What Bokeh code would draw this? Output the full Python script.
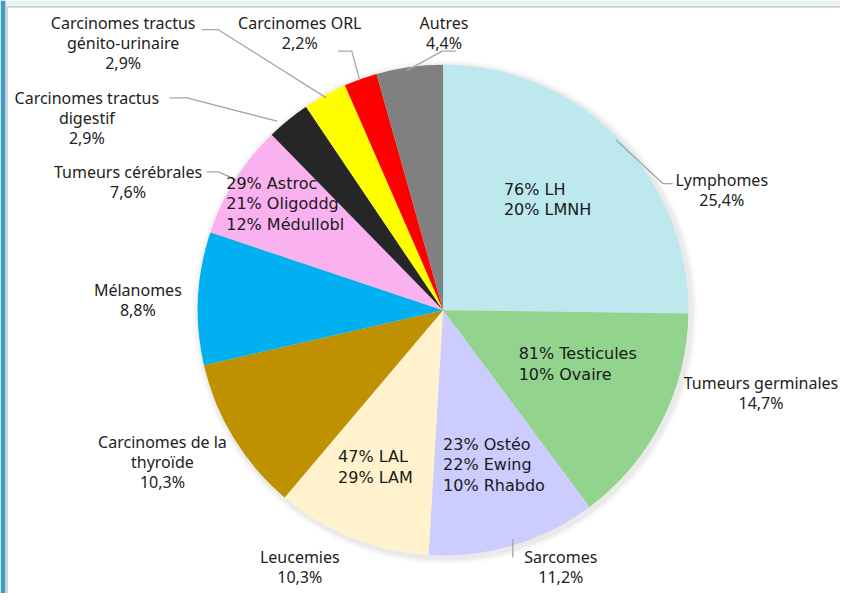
import math
from bokeh.plotting import figure
from bokeh.models import Range1d, ColumnDataSource
from bokeh.core.properties import value
from bokeh.embed import file_html
from bokeh.resources import INLINE

# ---------------- data ----------------
categories = ["Lymphomes", "Tumeurs germinales", "Sarcomes", "Leucemies",
              "Carcinomes de la thyroïde", "Mélanomes", "Tumeurs cérébrales",
              "Carcinomes tractus digestif", "Carcinomes tractus génito-urinaire",
              "Carcinomes ORL", "Autres"]
label_names = ["Lymphomes", "Tumeurs germinales", "Sarcomes", "Leucemies",
               "Carcinomes de la\nthyroïde", "Mélanomes", "Tumeurs cérébrales",
               "Carcinomes tractus\ndigestif", "Carcinomes tractus\ngénito-urinaire",
               "Carcinomes ORL", "Autres"]
values = [25.4, 14.7, 11.2, 10.3, 10.3, 8.8, 7.6, 2.9, 2.9, 2.2, 4.4]
colors = ["#BDE8EE", "#92D38D", "#CCCCFF", "#FFF2CC", "#BF9000", "#00B0F0",
          "#F9B1F0", "#262626", "#FFFF00", "#FF0000", "#808080"]
sub_labels = ["76% LH\n20% LMNH", "81% Testicules\n10% Ovaire",
              "23% Ostéo\n22% Ewing\n10% Rhabdo", "47% LAL\n29% LAM",
              "", "", "29% Astroc\n21% Oligoddg\n12% Médullobl", "", "", "", ""]

# ---------------- layout (pixel coords of reference) ----------------
W, H = 856, 609
def Y(py):
    return H - py

cx, cy, R = 451, Y(318), 250

outer_pos = [(735, 173), (775, 382), (571, 560), (305, 560), (165, 442),
             (140, 286), (130, 165), (88, 89), (125, 12), (305, 12), (452, 12)]
inner_pos = [(513, 184), (528, 353), (451, 446), (344, 459), None, None,
             (230, 178), None, None, None, None]
leaders = [
    [(685, 188), (675, 188), (627, 143)],
    None,
    [(522, 553), (522, 572)],
    None, None, None,
    [(210, 176), (222, 176), (240, 184)],
    [(172, 100), (190, 100), (282, 124)],
    [(205, 30), (222, 30), (332, 100)],
    [(344, 52), (358, 52), (366, 82)],
    [(464, 52), (450, 52), (414, 72)],
]

p = figure(width=840, height=593, x_range=Range1d(0, W), y_range=Range1d(0, H),
           output_backend="svg", toolbar_location=None, min_border=0)
p.axis.visible = False
p.grid.visible = False
p.outline_line_color = None
p.background_fill_color = "white"
p.border_fill_color = "white"

# decorative frame (top strip, left strip) and panel border
p.quad(left=[0], right=[W], top=[Y(0)], bottom=[Y(5)], fill_color="#E4F3F4", line_color=None)
p.quad(left=[0], right=[5], top=[Y(0)], bottom=[Y(H)], fill_color="#3F9CC8", line_color=None)
p.line([6, W], [Y(6.5), Y(6.5)], line_color="#D0D0D0", line_width=2)
p.line([6.5, 6.5], [Y(6), Y(H)], line_color="#D0D0D0", line_width=2)

# soft shadow
for k, a in [(7, 0.04), (5, 0.05), (3, 0.07)]:
    p.circle(x=[cx + 2], y=[cy - 2], radius=R + k, fill_color="#7F7F7F",
             fill_alpha=a, line_color=None)

total = sum(values)
starts, ends = [], []
acc = 0.0
for v in values:
    a0 = math.pi / 2 - 2 * math.pi * acc / total
    acc += v
    a1 = math.pi / 2 - 2 * math.pi * acc / total
    starts.append(a0)
    ends.append(a1)

src = ColumnDataSource(dict(start=starts, end=ends, color=colors, cat=categories))
p.wedge(x=cx, y=cy, radius=R, start_angle="start", end_angle="end",
        direction="clock", fill_color="color", line_color=None, source=src)

# leader lines
for ld in leaders:
    if ld:
        p.line([q[0] for q in ld], [Y(q[1]) for q in ld], line_color="#A6A6A6",
               line_width=1.3)

# outer labels
otexts = [f"{n}\n{v:.1f}%".replace(".", ",") for n, v in zip(label_names, values)]
p.text(x=[q[0] for q in outer_pos], y=[Y(q[1]) for q in outer_pos], text=otexts,
       text_font=value("Noto Sans"), text_font_size="16px", text_color="#222222",
       text_align="center", text_baseline="top", text_line_height=0.91)

# inner labels
ix, iy, it = [], [], []
for pos, s in zip(inner_pos, sub_labels):
    if pos and s:
        ix.append(pos[0]); iy.append(Y(pos[1])); it.append(s)
p.text(x=ix, y=iy, text=it, text_font=value("DejaVu Sans"), text_font_size="16px",
       text_color="#1A1A1A", text_align="left", text_baseline="top",
       text_line_height=1.08)

open("out.html", "w").write(file_html(p, INLINE))
